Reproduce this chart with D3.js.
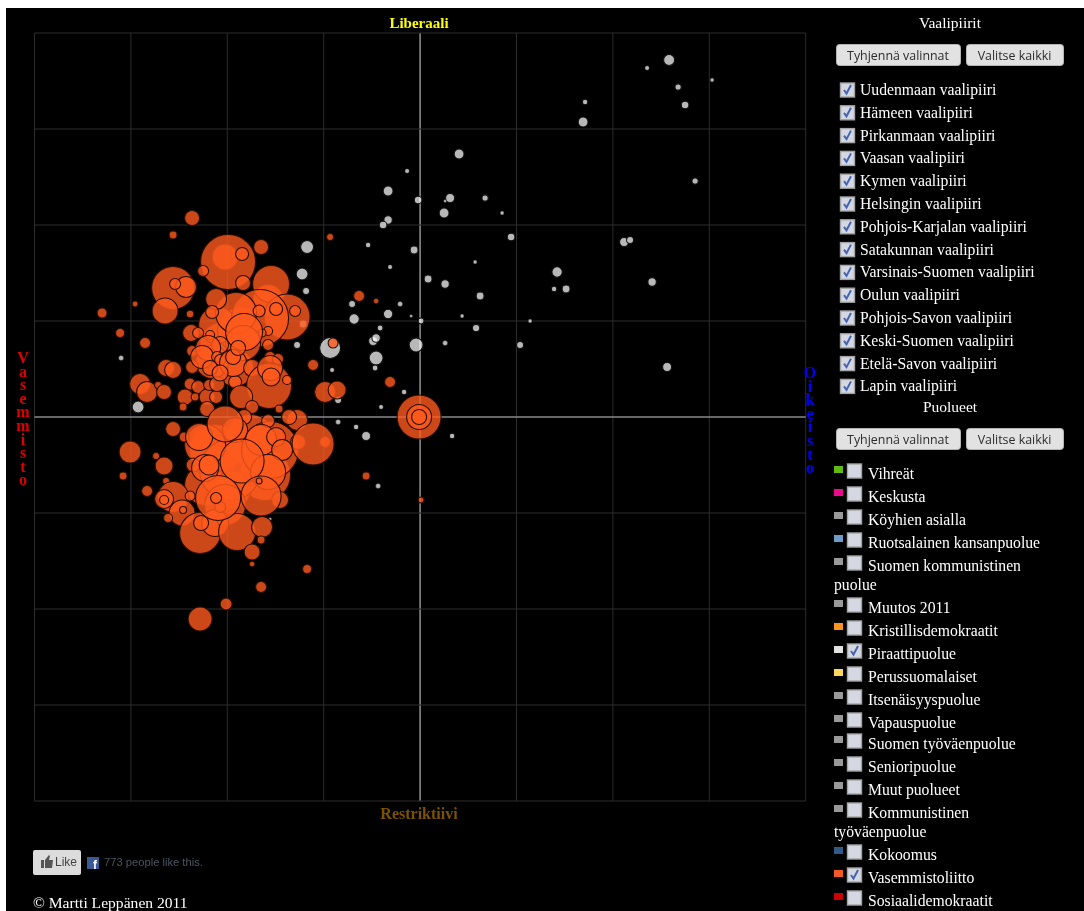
<!DOCTYPE html>
<html>
<head>
<meta charset="utf-8">
<title>Vaalikone</title>
<script src="https://cdnjs.cloudflare.com/ajax/libs/d3/7.8.5/d3.min.js"></script>
<style>
  html, body { margin: 0; padding: 0; background: #fff; overflow: hidden; }
  svg { display: block; filter: blur(0.4px); }
  text { font-family: "Liberation Serif", serif; }
  .vertical { writing-mode: vertical-rl; text-orientation: upright; letter-spacing: -3.4px; }
</style>
</head>
<body>
<svg id="chart" width="1084" height="911"></svg>
<script>
// [x, y, votes]  x: left-right score, y: restrictive-liberal score
var piraatit = [
  [249,357,25],[227,349,3],[258,330,7],[292,337,2],[265,312,11],[165,315,5],[163,295,20],[39,263,20],
  [-13,246,3],[275,236,7],[-32,226,20],[-2,217,11],[30,219,16],[25,216,1],[65,219,7],[24,204,20],
  [82,204,2],[-32,197,14],[-37,192,11],[91,180,11],[204,175,16],[210,177,9],[-52,172,5],[-6,167,12],
  [55,155,2],[-30,150,3],[137,145,22],[8,138,12],[25,133,14],[232,135,14],[134,128,5],[146,128,12],
  [60,121,12],[-68,113,9],[-20,113,4],[-32,103,18],[-66,98,22],[-9,101,1],[42,101,2],[1,96,6],
  [110,96,2],[-40,89,6],[56,89,10],[-47,76,16],[-44,79,14],[-4,72,42],[25,74,4],[-123,72,9],
  [-90,69,100],[100,72,9],[-44,59,42],[-88,47,3],[-45,49,6],[-16,25,5],[-82,17,9],[-39,10,3],
  [-82,-5,4],[-64,-10,5],[-54,-19,16],[32,-19,5],[-42,-69,4],[247,50,16],[-299,59,4],[-282,10,30],
  [-113,170,36],[-118,143,30],[-114,126,9],[-117,93,12],[-150,-102,1]
];

var vasemmisto = [
  [-198,72,484],[-185,49,324],[-208,55,256],[-180,87,484],[-205,-33,625],[-170,-23,625],[-155,-58,625],
  [-215,-68,400],[-188,-73,324],[-190,-53,900],[-215,-28,400],[-195,-88,400],
  [-195,160,156],[-192,155,729],[-177,134,49],[-152,117,225],[-149,133,324],[-133,100,506],[-203,92,324],
  [-160,99,784],[-184,104,400],[-247,129,441],[-255,106,156],[-234,130,100],[-245,133,25],[-178,163,36],
  [-217,146,25],[-159,170,49],[-228,199,49],[-247,182,12],[-90,180,9],[-125,106,25],[-144,108,36],
  [-161,106,30],[-204,118,100],[-208,105,36],[-285,113,6],[-318,104,20],[-300,84,16],[-275,74,25],
  [-230,103,11],[-229,84,64],[-222,84,25],[-210,82,16],[-152,86,16],[-158,84,12],[-177,74,289],
  [-152,72,25],[-107,52,25],[-95,25,100],[-83,27,72],[-280,33,100],
  [-273,25,100],[-262,32,9],[-256,25,49],[-254,49,64],[-247,47,64],[-228,50,36],[-235,20,56],
  [-230,33,30],[-222,30,36],[-225,20,12],[-237,10,12],[-213,20,56],[-211,32,25],[-204,20,36],
  [-203,33,49],[-213,8,49],[-185,35,36],[-228,66,25],[-200,72,64],[-212,69,144],[-218,60,121],
  [-203,60,25],[-200,57,25],[-187,54,169],[-187,60,49],[-210,49,49],[-200,44,56],[-168,49,64],
  [-151,31,484],[-179,20,121],[-150,60,25],[-142,58,25],[-150,49,144],[-149,40,72],[-133,37,16],
  [-168,10,36],[-141,8,12],[-176,85,324],[-182,69,49],
  [-150,-33,784],[-247,-12,49],[-236,-20,20],[-176,0,49],[-185,-13,144],[-221,-20,169],[-195,-7,306],
  [-152,-4,36],[-123,-3,100],[-131,0,49],[-159,-23,225],[-144,-20,81],[-138,-33,100],[-95,-25,25],
  [-122,-25,49],[-107,-27,420],[-290,-35,110],[-264,-39,9],[-256,-49,72],[-297,-59,12],[-254,-64,9],
  [-273,-74,25],[-227,-48,42],[-215,-51,169],[-211,-48,90],[-152,-55,289],[-178,-44,462],[-247,-80,225],
  [-230,-79,20],[-256,-82,81],[-256,-83,16],[-238,-96,156],[-237,-93,9],[-252,-101,16],[-220,-116,400],
  [-205,-106,169],[-219,-106,49],[-183,-115,324],[-140,-83,64],[-159,-79,380],[-161,-64,6],[-200,-90,25],
  [-202,-81,484],[-204,-81,25],[-158,-110,100],[-159,-123,12],[-168,-135,56],[-168,-147,4],[-113,-152,16],
  [-159,-170,25],[-194,-187,30],[-220,-202,132],
  [-61,121,25],[-44,116,4],[-87,74,20],[-30,35,25],[-54,-59,12],[1,-83,6],
  [-1,0,462],[-1,0,144],[-1,0,49]
];

var gridSteps = [-4,-3,-2,-1,0,1,2,3,4];
var stepX = 96.4, stepY = 96;

var districtNames = ["Uudenmaan vaalipiiri","Hämeen vaalipiiri","Pirkanmaan vaalipiiri","Vaasan vaalipiiri",
  "Kymen vaalipiiri","Helsingin vaalipiiri","Pohjois-Karjalan vaalipiiri","Satakunnan vaalipiiri",
  "Varsinais-Suomen vaalipiiri","Oulun vaalipiiri","Pohjois-Savon vaalipiiri","Keski-Suomen vaalipiiri",
  "Etelä-Savon vaalipiiri","Lapin vaalipiiri"];

var partyNames = ["Vihreät","Keskusta","Köyhien asialla","Ruotsalainen kansanpuolue","Suomen kommunistinen puolue",
  "Muutos 2011","Kristillisdemokraatit","Piraattipuolue","Perussuomalaiset","Itsenäisyyspuolue","Vapauspuolue",
  "Suomen työväenpuolue","Senioripuolue","Muut puolueet","Kommunistinen työväenpuolue","Kokoomus",
  "Vasemmistoliitto","Sosiaalidemokraatit"];
var partyColors = ["#5fbb12","#ec0a8c","#999","#6f9bcb","#999","#999","#f7931e","#e2e2e2","#fbd75b","#999",
  "#999","#999","#999","#999","#999","#2f5a8a","#f15a24","#cc0000"];
var partySelected = ["Piraattipuolue","Vasemmistoliitto"];

var svg = d3.select("#chart");
svg.append("rect").attr("width",1084).attr("height",911).attr("fill","#fff");
svg.append("rect").attr("x",6).attr("y",8).attr("width",1078).attr("height",903).attr("fill","#000");

var x = d3.scaleLinear().domain([-385.6,385.6]).range([34.5,805.7]);
var y = d3.scaleLinear().domain([-384,384]).range([801,33]);
var r = d3.scaleSqrt().domain([0,1000]).range([0,Math.sqrt(1000)]);

// grid
var grid = svg.append("g");
grid.selectAll(".gx").data(gridSteps).enter().append("line")
  .attr("x1",function(d){ return x(d*stepX); }).attr("x2",function(d){ return x(d*stepX); })
  .attr("y1",y.range()[1]).attr("y2",y.range()[0])
  .attr("stroke",function(d){ return d==0 ? "#8a8a8a" : "#2c2c2c"; })
  .attr("stroke-width",function(d){ return d==0 ? 1.6 : 1; });
grid.selectAll(".gy").data(gridSteps).enter().append("line")
  .attr("y1",function(d){ return y(d*stepY); }).attr("y2",function(d){ return y(d*stepY); })
  .attr("x1",x.range()[0]).attr("x2",x.range()[1])
  .attr("stroke",function(d){ return d==0 ? "#8a8a8a" : "#2c2c2c"; })
  .attr("stroke-width",function(d){ return d==0 ? 1.6 : 1; });

// bubbles
function bubbles(data, fill, opacity, edge) {
  svg.append("g").selectAll("circle").data(data).enter().append("circle")
    .attr("cx",function(d){ return x(d[0]); })
    .attr("cy",function(d){ return y(d[1]); })
    .attr("r",function(d){ return r(d[2]) + 0.5; })
    .attr("fill",fill)
    .attr("fill-opacity",opacity)
    .attr("stroke",edge)
    .attr("stroke-width",function(d){ return d[2] > 4 ? 1.1 : 0.4; });
}
bubbles(piraatit,"#ffffff",0.72,"#111");
bubbles(vasemmisto,"#ff5a1e",0.8,"#2a0f05");

// axis titles
function label(txt, px, py, color, anchor, size, bold) {
  return svg.append("text").attr("x",px).attr("y",py).attr("fill",color)
    .attr("text-anchor",anchor||"start").attr("font-size",size||15)
    .attr("font-weight",bold?"bold":"normal").text(txt);
}
label("Liberaali",419,28,"#ffff00","middle",15,true);
label("Restriktiivi",419,819,"#7c5200","middle",16,true);
label("Vasemmisto",23,349,"#e00000","start",16,true).attr("class","vertical");
label("Oikeisto",810,364,"#0000ff","start",16,true).attr("class","vertical");

// side panel
function button(txt, bx, by, w) {
  svg.append("rect").attr("x",bx+0.5).attr("y",by+0.5).attr("width",w).attr("height",21).attr("rx",3)
    .attr("fill","#e2e2e2").attr("stroke","#b5b5b5");
  svg.append("text").attr("x",bx+w/2).attr("y",by+16).attr("text-anchor","middle")
    .attr("fill","#2b2b2b").attr("font-size",12.4).style("font-family","'Open Sans', sans-serif").text(txt);
}
function checkbox(cx, cy, checked) {
  svg.append("rect").attr("x",cx+0.5).attr("y",cy+0.5).attr("width",14).attr("height",14)
    .attr("fill","#d5d8e2").attr("stroke","#a4a4a4").attr("stroke-width",1.4);
  if (checked) {
    svg.append("path").attr("d","M"+(cx+4)+" "+(cy+7.5)+"l2.5 3.5l4.5-8.5")
      .attr("fill","none").attr("stroke","#4565b0").attr("stroke-width",2);
  }
}
label("Vaalipiirit",950,28,"#fff","middle",15.5);
button("Tyhjennä valinnat",836,44,124);
button("Valitse kaikki",966,44,97);
districtNames.forEach(function(d,i){
  var rowY = 95 + i*22.8;
  checkbox(840,rowY-12.5,true);
  label(d,860,rowY,"#fff","start",15.7);
});

label("Puolueet",950,412,"#fff","middle",15.5);
button("Tyhjennä valinnat",836,428,124);
button("Valitse kaikki",966,428,97);
var rowY = 478.5;
partyNames.forEach(function(d,i){
  svg.append("rect").attr("x",834).attr("y",rowY-12.5).attr("width",9).attr("height",7).attr("fill",partyColors[i]);
  checkbox(847,rowY-15,partySelected.indexOf(d) >= 0);
  var cut = d.length > 25 ? d.lastIndexOf(" ") : -1;
  label(cut > 0 ? d.slice(0,cut) : d,868,rowY,"#fff","start",15.7);
  if (cut > 0) {
    rowY += 19;
    label(d.slice(cut+1),834,rowY,"#fff","start",15.7);
  }
  rowY += d == "Vapauspuolue" ? 21 : 23;
});

// like box and footer
svg.append("rect").attr("x",33).attr("y",850).attr("width",48).attr("height",25).attr("rx",2).attr("fill","#dcdcdc");
svg.append("path").attr("d","M41 860h3v8h-3zM45 860l4-5l1 1l-1 4h4l-1 8h-7z").attr("fill","#555");
svg.append("text").attr("x",55).attr("y",866).attr("fill","#444").attr("font-size",12)
  .style("font-family","'Liberation Sans', sans-serif").text("Like");
svg.append("rect").attr("x",87).attr("y",857).attr("width",12).attr("height",12).attr("fill","#3b5998");
svg.append("text").attr("x",93).attr("y",869).attr("fill","#fff").attr("font-size",12).attr("font-weight","bold")
  .style("font-family","'Liberation Sans', sans-serif").text("f");
svg.append("text").attr("x",104).attr("y",866).attr("fill","#4d5563").attr("font-size",11.2)
  .style("font-family","'Liberation Sans', sans-serif").text("773 people like this.");
label("© Martti Leppänen 2011",33,908,"#fff","start",15.6);
</script>
</body>
</html>
